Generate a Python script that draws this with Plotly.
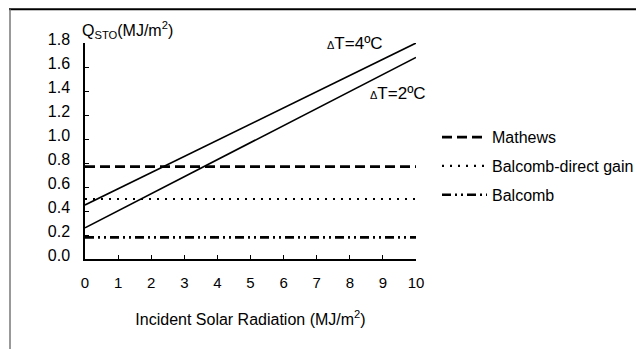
import plotly.graph_objects as go

# Data
x_vals = [0, 10]
dt4 = [0.45, 1.80]
dt2 = [0.26, 1.68]
mathews = [0.77, 0.77]
balcomb_dg = [0.50, 0.50]
balcomb = [0.18, 0.18]
y_ticks = [0.0, 0.2, 0.4, 0.6, 0.8, 1.0, 1.2, 1.4, 1.6, 1.8]
x_ticks = list(range(0, 11))

FONT = "Liberation Sans, Arial, sans-serif"

# reference pixel -> paper coordinate helpers (plot area 331 x 216.3 px)
def px(xr):
    return (xr - 85) / 331.0

def py(yr):
    return (259 - yr) / 216.3

fig = go.Figure()
fig.add_trace(go.Scatter(x=x_vals, y=dt4, mode="lines", line=dict(color="black", width=1.6),
                         showlegend=False, cliponaxis=False))
fig.add_trace(go.Scatter(x=x_vals, y=dt2, mode="lines", line=dict(color="black", width=1.6),
                         showlegend=False, cliponaxis=False))
fig.add_trace(go.Scatter(x=x_vals, y=mathews, mode="lines", name="Mathews", legendgroup="a",
                         line=dict(color="black", width=2.6, dash="10px,5px")))
fig.add_trace(go.Scatter(x=x_vals, y=balcomb_dg, mode="lines", name="Balcomb-direct gain", legendgroup="b",
                         line=dict(color="black", width=2.2, dash="2px,6px")))
fig.add_trace(go.Scatter(x=x_vals, y=balcomb, mode="lines", name="Balcomb", legendgroup="c",
                         line=dict(color="black", width=2.6, dash="9px,4px,2px,4px,2px,4px")))

fig.update_layout(
    width=636, height=341,
    margin=dict(l=77, r=228, t=35, b=90, autoexpand=False),
    paper_bgcolor="white", plot_bgcolor="white",
    font=dict(family=FONT, size=14, color="black"),
    showlegend=True,
    legend=dict(x=px(437), y=py(120), xanchor="left", yanchor="top", traceorder="grouped",
                tracegroupgap=5, itemwidth=45, font=dict(size=16), bgcolor="rgba(0,0,0,0)"),
    xaxis=dict(range=[0, 10], tickvals=x_ticks, ticks="inside", ticklen=4, tickcolor="black",
               showline=True, linecolor="black", linewidth=1.5, showgrid=False, zeroline=False,
               ticklabelstandoff=9, tickfont=dict(size=15),
               title=dict(text="Incident Solar Radiation (MJ/m<sup>2</sup>)", standoff=24, font=dict(size=16))),
    yaxis=dict(range=[0, 1.8], tickvals=y_ticks, tickformat=".1f", ticks="inside", ticklen=4,
               tickcolor="black", showline=True, linecolor="black", linewidth=1.5, showgrid=False,
               zeroline=False, ticklabelstandoff=10, ticklabelshift=-4, tickfont=dict(size=16)),
    annotations=[
        dict(xref="paper", yref="paper", x=px(80), y=py(30), xanchor="left", yanchor="middle",
             text="Q<sub>STO</sub>(MJ/m<sup>2</sup>)", showarrow=False, font=dict(size=16)),
        dict(xref="paper", yref="paper", x=px(325), y=py(43), xanchor="left",
             yanchor="middle", text="<span style='font-size:11px'>Δ</span>T=4ºC", showarrow=False,
             font=dict(size=17)),
        dict(xref="paper", yref="paper", x=px(368), y=py(93), xanchor="left",
             yanchor="middle", text="<span style='font-size:11px'>Δ</span>T=2ºC", showarrow=False,
             font=dict(size=17)),
    ],
    shapes=[
        dict(type="line", xref="paper", yref="paper", x0=px(9), x1=px(650),
             y0=py(9), y1=py(9), line=dict(color="black", width=2)),
        dict(type="line", xref="paper", yref="paper", x0=px(10), x1=px(10),
             y0=py(9), y1=py(360), line=dict(color="#777777", width=1.5)),
    ],
)

fig.write_html("out.html")
